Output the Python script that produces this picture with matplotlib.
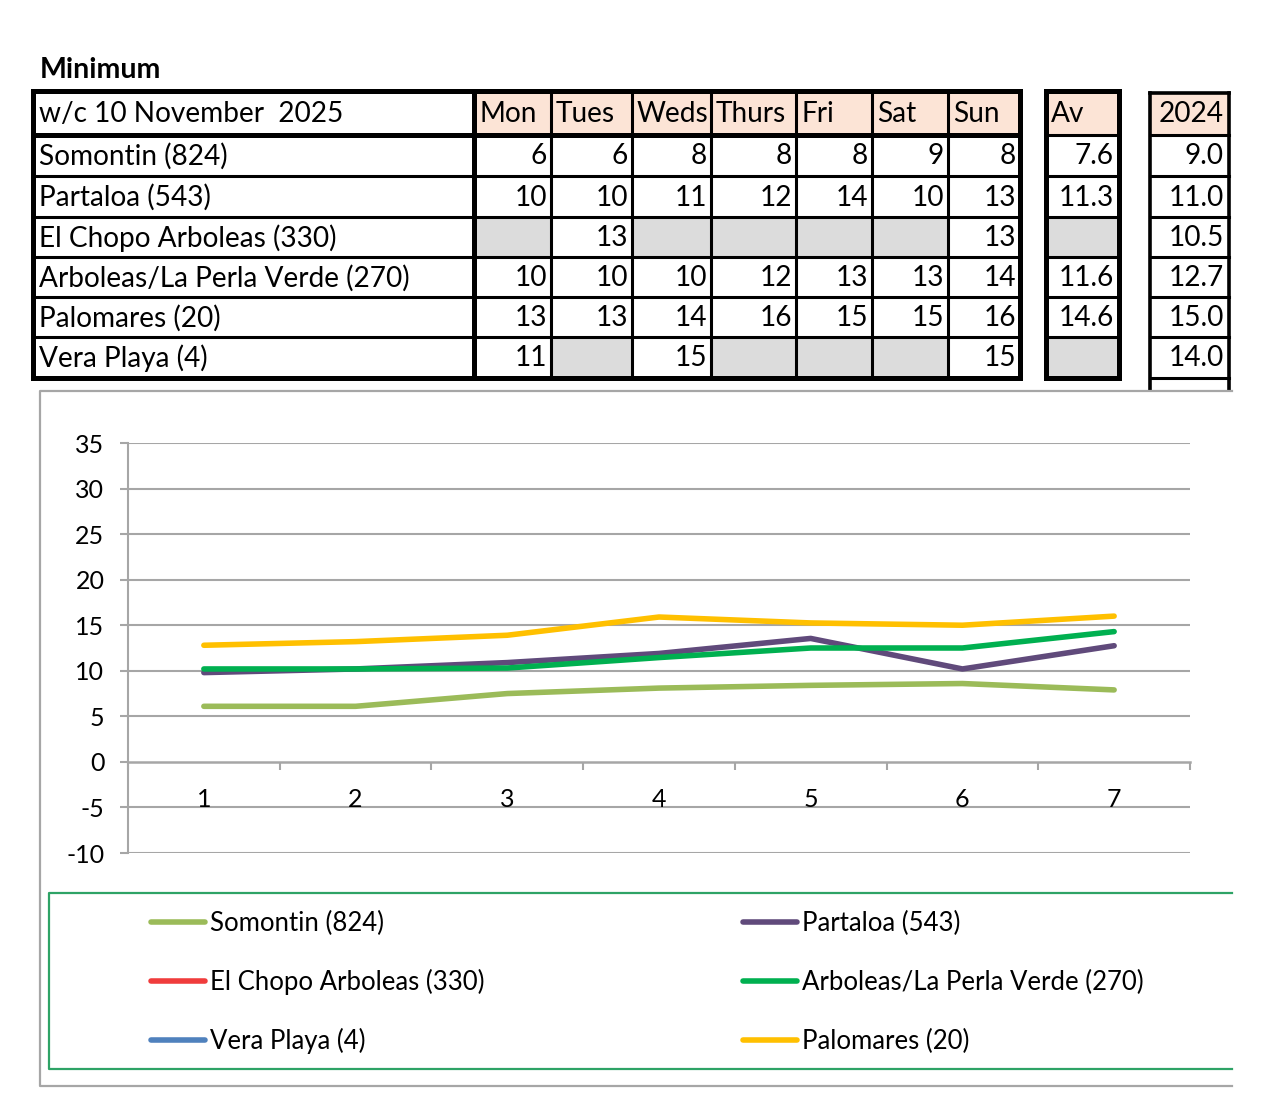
import numpy as np
import matplotlib
matplotlib.use("Agg")
import matplotlib.pyplot as plt
from matplotlib.patches import Rectangle
from matplotlib.lines import Line2D

plt.rcParams['font.family'] = ['Lato', 'DejaVu Sans']

# ---------------- data ----------------
title = "Minimum"
week_label = "w/c 10 November  2025"
days = ['Mon', 'Tues', 'Weds', 'Thurs', 'Fri', 'Sat', 'Sun']
stations = ['Somontin (824)', 'Partaloa (543)', 'El Chopo Arboleas (330)',
            'Arboleas/La Perla Verde (270)', 'Palomares (20)', 'Vera Playa (4)']
table_min = [
    [6, 6, 8, 8, 8, 9, 8],
    [10, 10, 11, 12, 14, 10, 13],
    [None, 13, None, None, None, None, 13],
    [10, 10, 10, 12, 13, 13, 14],
    [13, 13, 14, 16, 15, 15, 16],
    [11, None, 15, None, None, None, 15],
]
av_label = "Av"
av_values = ['7.6', '11.3', None, '11.6', '14.6', None]
prev_label = "2024"
prev_values = ['9.0', '11.0', '10.5', '12.7', '15.0', '14.0']

x_cats = [1, 2, 3, 4, 5, 6, 7]
somontin = [6.1, 6.1, 7.5, 8.1, 8.4, 8.6, 7.9]
partaloa = [9.8, 10.2, 10.9, 11.9, 13.55, 10.2, 12.75]
el_chopo = [np.nan, 13, np.nan, np.nan, np.nan, np.nan, 13]
arboleas = [10.2, 10.2, 10.3, 11.45, 12.5, 12.5, 14.3]
vera_playa = [11, np.nan, 15, np.nan, np.nan, np.nan, 15]
palomares = [12.8, 13.2, 13.9, 15.9, 15.25, 15.0, 16.0]

series = [somontin, partaloa, el_chopo, arboleas, vera_playa, palomares]
series_names = ['Somontin (824)', 'Partaloa (543)', 'El Chopo Arboleas (330)',
                'Arboleas/La Perla Verde (270)', 'Vera Playa (4)', 'Palomares (20)']
colors = ['#9BBB59', '#604A7B', '#F03C3C', '#00B050', '#4F81BD', '#FFC000']
y_ticks = [-10, -5, 0, 5, 10, 15, 20, 25, 30, 35]

# ---------------- figure ----------------
W, H = 1278, 1113
fig = plt.figure(figsize=(W / 100, H / 100), dpi=100)
bg = fig.add_axes([0, 0, 1, 1])
bg.set_xlim(0, W)
bg.set_ylim(H, 0)
bg.axis('off')

TFS = 20.2   # table font size
LFS = 18.5   # legend font size
AFS = 18     # axis font size
THICK = 3.6
THIN = 2.2
HEAD_FILL = '#FCE4D6'
GREY_FILL = '#DCDCDC'

bg.text(40, 70, title, fontsize=20.5, fontweight='bold', ha='left', va='center')

col_edges = [33, 474, 551, 632, 711, 796, 872, 948, 1020]
row_edges = [91, 135, 176, 217, 257, 297, 337, 378]

def hline(x0, x1, y, lw):
    bg.plot([x0, x1], [y, y], color='black', lw=lw, solid_capstyle='projecting')

def vline(x, y0, y1, lw):
    bg.plot([x, x], [y0, y1], color='black', lw=lw, solid_capstyle='projecting')

# header fills
for j in range(len(days)):
    bg.add_patch(Rectangle((col_edges[j + 1], row_edges[0]), col_edges[j + 2] - col_edges[j + 1],
                           row_edges[1] - row_edges[0], color=HEAD_FILL, lw=0))
# grey cells
for i, row in enumerate(table_min):
    for j, v in enumerate(row):
        if v is None:
            bg.add_patch(Rectangle((col_edges[j + 1], row_edges[i + 1]), col_edges[j + 2] - col_edges[j + 1],
                                   row_edges[i + 2] - row_edges[i + 1], color=GREY_FILL, lw=0))

def ymid(i):
    return (row_edges[i] + row_edges[i + 1]) / 2 + 1

bg.text(39, ymid(0), week_label, fontsize=TFS, ha='left', va='center')
for j, d in enumerate(days):
    bg.text(col_edges[j + 1] + 5, ymid(0), d, fontsize=TFS, ha='left', va='center')
for i, st in enumerate(stations):
    bg.text(39, ymid(i + 1), st, fontsize=TFS, ha='left', va='center')
    for j, v in enumerate(table_min[i]):
        if v is not None:
            bg.text(col_edges[j + 2] - 4, ymid(i + 1), str(v), fontsize=TFS, ha='right', va='center')

for k, y in enumerate(row_edges):
    lw = THICK if k in (0, 1, len(row_edges) - 1) else THIN
    hline(col_edges[0], col_edges[-1], y, lw)
for k, x in enumerate(col_edges):
    lw = THICK if k in (0, 1, len(col_edges) - 1) else THIN
    vline(x, row_edges[0], row_edges[-1], lw)

# Av box
ax0, ax1 = 1046, 1119
bg.add_patch(Rectangle((ax0, row_edges[0]), ax1 - ax0, row_edges[1] - row_edges[0], color=HEAD_FILL, lw=0))
for i, v in enumerate(av_values):
    if v is None:
        bg.add_patch(Rectangle((ax0, row_edges[i + 1]), ax1 - ax0, row_edges[i + 2] - row_edges[i + 1],
                               color=GREY_FILL, lw=0))
    else:
        bg.text(ax1 - 5, ymid(i + 1), v, fontsize=TFS, ha='right', va='center')
bg.text(ax0 + 5, ymid(0), av_label, fontsize=TFS, ha='left', va='center')
for k, y in enumerate(row_edges):
    hline(ax0, ax1, y, THICK if k in (0, len(row_edges) - 1) else THIN)
vline(ax0, row_edges[0], row_edges[-1], THICK)
vline(ax1, row_edges[0], row_edges[-1], THICK)

# 2024 box
px0, px1 = 1150, 1229
bg.add_patch(Rectangle((px0, row_edges[0] + 2), px1 - px0, row_edges[1] - row_edges[0] - 2, color=HEAD_FILL, lw=0))
bg.text(px1 - 5, ymid(0), prev_label, fontsize=TFS, ha='right', va='center')
for i, v in enumerate(prev_values):
    bg.text(px1 - 5, ymid(i + 1), v, fontsize=TFS, ha='right', va='center')
for k, y in enumerate(row_edges):
    hline(px0, px1, y + (2 if k == 0 else 0), 2.6 if k == 0 else THIN)
vline(px0, row_edges[0] + 2, 392, 2.6)
vline(px1, row_edges[0] + 2, 392, 2.6)

# chart area box
bg.add_patch(Rectangle((40, 391), 1240, 1086 - 391, facecolor='white', edgecolor='none', zorder=3))
bg.plot([1232, 40, 40, 1232], [391, 391, 1086, 1086], color='#A6A6A6', lw=1.6, zorder=4)

# legend box
bg.plot([1232, 49, 49, 1232], [893, 893, 1069, 1069], color='#2EA366', lw=1.6, zorder=4)

# ---------------- line chart ----------------
L, R, T, B = 128, 1190, 443, 853
ax = fig.add_axes([L / W, 1 - B / H, (R - L) / W, (B - T) / H])
ax.set_zorder(5)
ax.patch.set_alpha(0)
ax.set_xlim(0.5, 7.5)
ax.set_ylim(-10, 35)
GRID = '#A6A6A6'
for yv in y_ticks:
    if yv != 0:
        ax.axhline(yv, color=GRID, lw=1.5, zorder=1)

for s, c in zip(series, colors):
    ax.plot(x_cats, s, color=c, lw=4.0, solid_capstyle='round', solid_joinstyle='round', zorder=3)

for side in ('top', 'right'):
    ax.spines[side].set_visible(False)
ax.spines['left'].set_color(GRID)
ax.spines['left'].set_linewidth(1.5)
ax.spines['bottom'].set_position(('data', 0))
ax.spines['bottom'].set_color(GRID)
ax.spines['bottom'].set_linewidth(1.8)
ax.set_yticks(y_ticks)
ax.set_yticklabels([str(v) for v in y_ticks])
ax.tick_params(axis='y', length=6, width=1.5, color=GRID, labelsize=AFS, pad=11)
ax.set_xticks(np.arange(0.5, 8.0, 1.0))
ax.set_xticklabels([])
ax.set_xticks(x_cats, minor=True)
ax.set_xticklabels([str(v) for v in x_cats], minor=True)
ax.tick_params(axis='x', which='major', length=6, width=1.5, color=GRID, direction='out')
ax.tick_params(axis='x', which='minor', length=0, labelsize=AFS, pad=18.5)

# legend entries (row-major, two columns)
leg_rows = [922, 981, 1040]
leg_cols = [149, 741]
for k in range(len(series)):
    r, cidx = divmod(k, 2)
    x0 = leg_cols[cidx]
    y = leg_rows[r]
    bg.add_line(Line2D([x0 + 2, x0 + 56], [y, y], color=colors[k], lw=4.0,
                       solid_capstyle='round', zorder=6))
    bg.text(x0 + 61, y + 1, series_names[k], fontsize=LFS, ha='left', va='center', zorder=6)

fig.savefig('out.png', dpi=100)
